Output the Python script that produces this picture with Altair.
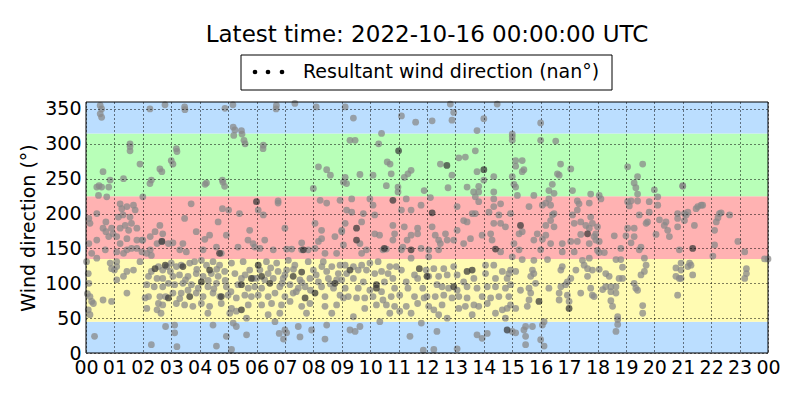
import altair as alt
import pandas as pd

TITLE = "Latest time: 2022-10-16 00:00:00 UTC"
LEGEND_LABEL = "Resultant wind direction (nan°)"
Y_TITLE = "Wind direction (°)"

hour_ticks = list(range(25))
dir_ticks = [0, 50, 100, 150, 200, 250, 300, 350]

band_low = [0, 45, 135, 225, 315]
band_high = [45, 135, 225, 315, 360]
band_colors = ["#bbdeff", "#fffbb2", "#ffb2b2", "#b8ffb8", "#bbdeff"]

# (hour of day, wind direction in degrees)
seg_00_03 = [
    (0.5, 355), (0.5, 343), (0.55, 350), (0.55, 338), (0.6, 260), (0.46, 240), (0.38, 238),
    (0.55, 238), (0.8, 238), (0.44, 226), (0.73, 224), (0.85, 248), (0.38, 200), (0.1, 193),
    (0.14, 186), (0.7, 188), (0.6, 179), (0.9, 179), (0.8, 167), (0.7, 174), (0.38, 162),
    (0.95, 171), (0.1, 157), (0.38, 136), (0.68, 148), (0.2, 143), (0.02, 131), (0.85, 129),
    (0.08, 114), (0.9, 121), (0.14, 81), (0.2, 74), (0.26, 71), (0.08, 62), (0.14, 55),
    (0.6, 76), (0.9, 74), (0.3, 24), (0.05, 85), (0.1, 100),
    (1.55, 300), (1.55, 290), (1.9, 271), (1.32, 250), (2.0, 224), (1.2, 214), (1.26, 207),
    (1.44, 210), (1.67, 212), (1.73, 205), (1.3, 198), (1.55, 195), (1.14, 195), (1.38, 183),
    (1.2, 179), (1.6, 186), (1.79, 179), (1.5, 176), (1.08, 167), (1.44, 164), (1.79, 162),
    (1.97, 162), (1.2, 157), (1.6, 150), (1.44, 148), (1.08, 145), (1.79, 150), (1.32, 143),
    (1.08, 131), (1.08, 124), (1.0, 119), (1.44, 117), (1.67, 119), (1.32, 110), (1.08, 105),
    (1.44, 86), (1.9, 131), (1.55, 296),
    (2.6, 264), (2.3, 248), (2.25, 243), (2.67, 260), (2.25, 350), (2.78, 356), (2.6, 183),
    (2.43, 174), (2.26, 167), (2.7, 171), (2.0, 162), (2.5, 157), (2.67, 160), (2.9, 157),
    (2.26, 148), (1.97, 145), (2.14, 143), (2.3, 140), (2.3, 117), (2.55, 124), (2.7, 119),
    (2.85, 124), (2.97, 117), (2.2, 110), (2.5, 107), (2.7, 107), (2.9, 100), (2.14, 98),
    (2.4, 95), (2.7, 95), (2.08, 79), (2.2, 81), (2.6, 81), (2.8, 81), (2.55, 71), (2.7, 69),
    (2.14, 64), (2.5, 62), (2.64, 57), (2.8, 38), (2.3, 12),
]

seg_03_06 = [
    (3.47, 353), (3.48, 349), (4.89, 351), (5.17, 356), (5.18, 324), (5.47, 319), (5.2, 312),
    (5.56, 305), (5.24, 320), (5.49, 314), (5.6, 300), (3.18, 293), (3.0, 276), (3.06, 271),
    (3.2, 289), (4.24, 244), (4.19, 242), (4.8, 248), (4.88, 239), (4.82, 245), (3.7, 214),
    (3.47, 193), (4.8, 207), (5.02, 205), (5.4, 200), (4.65, 188), (5.76, 176), (3.88, 174),
    (4.35, 169), (4.18, 163), (4.94, 169), (5.7, 162), (5.88, 157), (3.41, 157), (3.06, 158),
    (3.3, 148), (3.53, 145), (4.12, 148), (4.59, 152), (4.76, 143), (5.35, 152), (5.94, 152),
    (3.0, 129), (3.18, 124), (3.35, 126), (3.65, 129), (3.82, 131), (4.06, 133), (4.24, 126),
    (4.47, 131), (4.7, 126), (5.12, 129), (5.53, 131), (5.76, 119), (3.06, 110), (3.29, 112),
    (3.59, 110), (3.88, 114), (4.12, 110), (4.41, 114), (4.65, 110), (4.88, 117), (5.24, 114),
    (5.47, 107), (5.88, 107), (3.12, 98), (3.41, 100), (3.71, 98), (4.29, 95), (4.59, 100),
    (4.94, 95), (5.35, 98), (5.71, 93), (5.94, 95), (3.06, 86), (3.35, 86), (3.59, 90),
    (3.88, 86), (4.12, 81), (4.47, 86), (4.71, 81), (5.0, 83), (5.29, 79), (5.59, 83),
    (5.82, 81), (3.18, 71), (3.47, 69), (3.76, 67), (4.06, 71), (4.35, 67), (4.76, 71),
    (5.12, 64), (5.71, 69), (4.29, 57), (5.06, 57), (5.29, 60), (5.65, 50), (3.12, 40),
    (3.12, 29), (4.47, 40), (4.94, 24), (5.18, 43), (5.29, 38), (5.65, 26), (4.59, 10),
    (5.12, 5), (3.2, 9), (3.5, 105), (3.9, 120), (4.3, 104), (4.5, 92), (4.9, 104), (5.1, 88),
    (5.6, 112), (3.3, 78), (3.95, 93), (4.6, 120),
]

seg_06_09 = [
    (6.69, 350), (6.7, 355), (7.35, 358), (8.1, 353), (6.24, 298), (6.23, 293), (8.18, 267),
    (8.47, 263), (8.6, 255), (8.0, 236), (9.06, 245), (6.06, 205), (6.76, 218), (6.76, 215),
    (8.24, 219), (8.47, 215), (6.24, 198), (8.94, 219), (8.06, 186), (8.29, 176), (7.0, 179),
    (8.76, 167), (9.0, 176), (6.29, 162), (8.29, 164), (7.59, 158), (8.18, 160), (6.12, 150),
    (6.59, 148), (7.06, 149), (7.24, 149), (7.59, 148), (7.82, 148), (8.06, 150), (8.41, 143),
    (8.82, 143), (6.35, 131), (6.71, 129), (7.12, 133), (7.35, 126), (7.82, 131), (8.35, 131),
    (8.65, 124), (8.94, 126), (6.12, 119), (6.41, 114), (6.76, 117), (7.06, 119), (8.0, 119),
    (8.47, 117), (8.88, 114), (6.0, 107), (6.29, 105), (6.59, 107), (6.94, 107), (7.53, 105),
    (7.88, 107), (8.18, 102), (8.53, 107), (8.82, 105), (6.18, 93), (6.82, 95), (7.18, 98),
    (7.47, 93), (7.71, 95), (8.29, 95), (8.71, 93), (6.06, 83), (6.41, 81), (6.65, 86),
    (7.0, 81), (7.29, 86), (8.41, 81), (8.94, 83), (6.18, 69), (6.53, 71), (6.88, 69),
    (7.18, 74), (7.59, 67), (7.88, 71), (8.41, 67), (8.82, 69), (6.41, 55), (6.82, 57),
    (7.76, 57), (8.65, 57), (7.0, 33), (7.06, 29), (7.47, 38), (7.94, 33), (8.47, 40),
    (7.53, 23), (8.41, 20), (6.65, 45), (6.8, 28), (6.95, 20), (6.5, 122), (6.9, 100),
    (7.3, 120), (7.6, 101), (8.1, 112), (8.6, 99), (7.0, 112), (7.4, 88), (7.9, 90), (8.3, 124),
]

seg_09_12 = [
    (9.12, 353), (9.41, 337), (11.1, 340), (11.6, 331), (10.4, 315), (9.29, 305), (9.47, 305),
    (10.3, 300), (10.7, 271), (10.6, 274), (11.44, 262), (11.33, 257), (11.2, 252),
    (10.74, 257), (9.64, 256), (10.1, 255), (9.12, 252), (9.17, 243), (10.57, 240),
    (10.98, 238), (10.98, 231), (11.9, 233), (9.35, 221), (9.99, 221), (10.1, 212),
    (11.27, 221), (11.79, 212), (9.17, 205), (9.35, 202), (9.76, 200), (10.16, 198),
    (11.1, 205), (11.44, 205), (9.12, 186), (9.7, 188), (10.8, 183), (11.2, 181), (11.67, 179),
    (9.0, 174), (10.16, 171), (10.33, 169), (10.86, 171), (11.44, 169), (11.67, 171),
    (10.8, 162), (11.3, 162), (9.06, 155), (9.64, 157), (11.15, 152), (9.87, 148),
    (10.45, 148), (10.57, 149), (11.1, 148), (11.79, 150), (9.7, 143), (9.12, 126),
    (9.41, 124), (9.7, 126), (9.99, 129), (10.28, 131), (10.69, 124), (10.92, 124),
    (11.44, 136), (11.97, 119), (9.17, 114), (9.58, 119), (9.87, 119), (10.16, 114),
    (10.4, 117), (10.63, 114), (11.1, 119), (11.56, 112), (9.0, 105), (9.41, 107), (9.76, 102),
    (10.5, 102), (10.8, 107), (11.27, 102), (11.67, 107), (9.12, 93), (9.58, 93), (9.99, 90),
    (10.4, 88), (10.86, 93), (11.33, 93), (11.85, 93), (9.06, 79), (9.23, 81), (9.52, 79),
    (9.81, 79), (10.1, 81), (10.45, 76), (10.74, 81), (11.04, 83), (11.56, 81), (11.9, 79),
    (9.81, 64), (10.22, 69), (10.57, 69), (10.86, 67), (11.27, 67), (11.67, 71), (10.69, 57),
    (11.04, 60), (11.44, 57), (9.41, 52), (9.29, 33), (9.47, 31), (9.64, 38), (10.34, 45),
    (11.8, 43), (11.4, 24), (11.87, 4),
]

seg_12_15 = [
    (12.82, 357), (12.94, 345), (14.47, 357), (12.18, 333), (12.88, 334), (14.0, 336),
    (13.76, 319), (15.0, 310), (13.7, 290), (13.12, 280), (13.35, 281), (12.47, 271),
    (13.76, 260), (12.88, 255), (14.35, 253), (15.0, 253), (14.0, 248), (13.82, 239),
    (13.41, 238), (12.74, 237), (13.64, 231), (13.82, 231), (14.35, 231), (12.12, 223),
    (13.7, 224), (14.35, 221), (13.82, 217), (14.35, 210), (14.59, 214), (13.06, 210),
    (13.7, 200), (13.59, 200), (14.18, 202), (14.53, 198), (14.94, 200), (13.29, 190),
    (13.41, 188), (14.35, 186), (14.59, 186), (14.76, 181), (12.18, 181), (12.29, 169),
    (12.65, 171), (13.06, 176), (14.24, 171), (12.41, 162), (12.71, 162), (12.94, 162),
    (13.53, 164), (13.94, 169), (13.29, 157), (14.29, 162), (12.47, 157), (12.06, 148),
    (12.41, 148), (14.59, 145), (12.06, 138), (15.0, 138), (12.24, 121), (12.59, 121),
    (12.94, 124), (14.06, 126), (14.35, 126), (14.65, 117), (14.94, 119), (12.06, 110),
    (12.41, 110), (12.71, 112), (13.06, 112), (13.29, 102), (13.65, 107), (14.06, 114),
    (14.41, 107), (14.82, 107), (12.35, 98), (12.53, 95), (12.76, 93), (13.06, 90),
    (13.41, 95), (13.76, 93), (14.12, 95), (14.41, 95), (14.76, 93), (12.0, 81), (12.29, 81),
    (12.59, 83), (12.88, 79), (13.12, 81), (13.41, 79), (13.65, 69), (13.94, 81), (14.24, 79),
    (14.53, 81), (14.88, 81), (12.06, 67), (12.24, 62), (12.53, 69), (13.12, 64), (13.35, 67),
    (13.82, 67), (14.12, 71), (14.65, 62), (14.82, 64), (12.41, 55), (12.71, 50), (13.59, 55),
    (14.41, 57), (14.76, 50), (15.0, 31), (12.35, 31), (13.76, 26), (14.12, 28), (13.94, 21),
    (12.24, 5), (13.06, 6),
]

seg_15_18 = [
    (16.0, 330), (16.0, 305), (16.53, 304), (15.0, 314), (15.0, 305), (15.12, 276),
    (15.35, 276), (15.12, 268), (15.41, 263), (15.35, 260), (16.7, 271), (16.59, 257),
    (16.65, 255), (17.06, 264), (16.41, 242), (15.06, 242), (15.12, 238), (16.29, 233),
    (16.47, 229), (17.12, 233), (17.76, 228), (15.18, 226), (15.76, 226), (16.29, 221),
    (16.18, 215), (16.06, 212), (16.35, 212), (17.29, 218), (17.35, 214), (17.71, 215),
    (15.59, 210), (17.29, 205), (16.47, 200), (16.41, 198), (17.12, 198), (17.76, 195),
    (16.35, 190), (17.18, 186), (17.41, 188), (17.59, 183), (17.82, 186), (16.18, 183),
    (16.47, 181), (17.71, 179), (15.24, 171), (15.35, 174), (15.88, 171), (16.18, 169),
    (17.41, 170), (17.88, 167), (15.06, 157), (15.76, 162), (16.06, 163), (16.35, 157),
    (16.76, 157), (17.06, 160), (17.29, 160), (17.71, 157), (17.94, 162), (15.24, 148),
    (16.0, 148), (16.76, 145), (17.18, 145), (15.35, 134), (15.76, 133), (16.24, 134),
    (17.47, 133), (17.71, 136), (14.88, 114), (15.12, 117), (15.71, 119), (15.76, 114),
    (15.65, 110), (16.71, 119), (16.76, 124), (17.24, 119), (17.53, 126), (17.65, 121),
    (17.82, 119), (17.65, 110), (17.06, 107), (16.94, 102), (15.82, 100), (14.94, 98),
    (16.29, 93), (16.71, 95), (16.88, 98), (17.76, 93), (15.29, 90), (15.59, 93), (15.65, 86),
    (16.65, 86), (17.41, 86), (17.82, 83), (16.94, 83), (14.94, 69), (15.12, 64), (15.53, 67),
    (15.59, 76), (16.65, 76), (17.0, 74), (15.47, 38), (15.71, 38), (16.12, 45), (16.06, 40),
    (15.12, 29), (15.41, 33), (15.47, 24), (15.47, 12), (16.0, 19), (16.12, 10),
]

seg_18_21 = [
    (19.06, 267), (19.59, 271), (19.41, 253), (19.29, 244), (19.35, 237), (20.0, 234),
    (21.0, 239), (18.06, 226), (18.12, 221), (19.41, 228), (20.12, 224), (19.06, 217),
    (19.18, 218), (19.12, 211), (19.41, 218), (19.82, 217), (20.12, 212), (19.47, 198),
    (19.82, 202), (19.76, 188), (19.71, 186), (20.82, 200), (20.82, 193), (20.18, 191),
    (20.41, 188), (20.35, 183), (20.82, 181), (20.47, 176), (19.06, 179), (19.29, 179),
    (18.0, 181), (17.94, 171), (20.53, 167), (20.06, 170), (18.59, 168), (19.0, 168),
    (19.29, 167), (19.18, 158), (18.06, 160), (19.53, 152), (18.82, 150), (18.0, 147),
    (18.06, 144), (18.24, 144), (19.47, 148), (20.88, 148), (18.65, 134), (18.82, 134),
    (19.65, 136), (19.71, 126), (18.88, 123), (18.06, 120), (19.65, 117), (19.53, 112),
    (18.29, 114), (18.41, 110), (18.88, 107), (18.76, 107), (20.94, 119), (20.76, 122),
    (20.76, 110), (20.88, 107), (19.29, 100), (19.35, 93), (19.41, 90), (18.29, 95),
    (18.47, 95), (18.65, 95), (18.18, 91), (18.47, 88), (18.65, 86), (17.88, 81), (20.82, 83),
    (18.47, 75), (18.53, 67), (19.59, 68), (19.59, 57), (18.71, 52), (18.71, 48), (18.71, 41),
    (18.65, 31),
]

seg_21_24 = [
    (21.0, 240), (21.53, 210), (21.65, 212), (21.7, 212), (21.47, 207), (21.06, 200),
    (21.18, 202), (21.12, 198), (21.06, 190), (21.41, 183), (20.94, 129), (21.24, 129),
    (21.18, 124), (21.29, 126), (21.35, 112), (20.94, 107), (22.29, 200), (22.35, 201),
    (22.24, 194), (22.18, 188), (22.65, 198), (22.12, 176), (22.12, 155), (22.06, 139),
    (22.94, 160), (23.18, 145), (23.88, 135), (24.0, 135), (23.24, 121), (23.24, 114),
    (23.18, 107),
]

# darker-looking points
dark_pts = [
    (2.43, 121), (2.79, 126), (2.67, 160), (2.9, 79), (4.06, 102), (3.41, 124), (4.7, 143),
    (3.65, 81), (4.35, 119), (5.47, 98), (4.76, 81), (6.0, 217), (5.82, 107), (5.47, 62),
    (7.59, 116), (6.47, 100), (8.06, 86), (7.71, 79), (7.65, 148), (6.06, 126), (7.29, 110),
    (6.18, 110), (8.76, 100), (9.52, 179), (9.52, 162), (10.22, 98), (10.22, 93), (9.29, 119),
    (10.8, 219), (11.44, 148), (11.0, 290), (10.5, 150), (11.73, 121), (13.41, 117),
    (13.59, 119), (14.41, 149), (12.7, 269), (14.0, 263), (12.18, 201), (12.0, 110),
    (12.94, 95), (14.82, 33), (15.29, 183), (17.65, 171), (15.94, 74), (17.0, 64), (21.35, 150),
]

W, H = 682, 251
FONT = "DejaVu Sans"
TICK_FS = 19
TEXT_FS = 19

points = (seg_00_03 + seg_03_06 + seg_06_09 + seg_09_12 + seg_12_15
          + seg_15_18 + seg_18_21 + seg_21_24)
df = pd.DataFrame(points, columns=["hour", "direction"])
dark_df = pd.DataFrame(dark_pts, columns=["hour", "direction"])
bands_df = pd.DataFrame({"low": band_low, "high": band_high, "color": band_colors})

x_scale = alt.Scale(domain=[0, 24], nice=False, zero=False)
y_scale = alt.Scale(domain=[0, 360], nice=False, zero=False)

x_axis = alt.Axis(
    values=hour_ticks,
    labelExpr="(datum.value % 24 < 10 ? '0' : '') + (datum.value % 24)",
    grid=True, gridDash=[1, 3], gridColor="black", gridWidth=1, gridOpacity=1,
    ticks=False, domain=False, labelFontSize=TICK_FS, labelFont=FONT, labelColor="black",
    labelPadding=5, labelFlush=False, labelOverlap=False, labelBound=False,
    title=None, zindex=1,
)
y_axis = alt.Axis(
    values=dir_ticks,
    grid=True, gridDash=[1, 3], gridColor="black", gridWidth=1, gridOpacity=1,
    ticks=False, domain=False, labelFontSize=TICK_FS, labelFont=FONT, labelColor="black",
    labelPadding=5, labelFlush=False, labelOverlap=False, title=Y_TITLE,
    titleFont=FONT, titleFontSize=TEXT_FS, titleFontWeight="normal", titleColor="black",
    titlePadding=6, zindex=1,
)

bands = alt.Chart(bands_df).mark_rect().encode(
    y=alt.Y("low:Q", scale=y_scale, axis=y_axis, title=Y_TITLE),
    y2="high:Q",
    x=alt.value(0),
    x2=alt.value(W),
    color=alt.Color("color:N", scale=None),
)

pts = alt.Chart(df).mark_circle(size=46, color="#8a8a8a", opacity=0.75).encode(
    x=alt.X("hour:Q", scale=x_scale, axis=x_axis, title=None),
    y=alt.Y("direction:Q", scale=y_scale, axis=y_axis, title=Y_TITLE),
)

dark = alt.Chart(dark_df).mark_circle(size=46, color="#3c3c3c", opacity=0.75).encode(
    x=alt.X("hour:Q", scale=x_scale, axis=x_axis, title=None),
    y=alt.Y("direction:Q", scale=y_scale, axis=y_axis, title=Y_TITLE),
)

blank = alt.Data(values=[{}])
frame = alt.Chart(blank).mark_rect(fill=None, stroke="black", strokeWidth=1).encode(
    x=alt.value(0), x2=alt.value(W), y=alt.value(0), y2=alt.value(H)
)

legend_box = alt.Chart(blank).mark_rect(fill="white", stroke="black", strokeWidth=1).encode(
    x=alt.value(155), x2=alt.value(526), y=alt.value(-47), y2=alt.value(-12)
)
legend_dots = [
    alt.Chart(blank).mark_circle(size=22, color="black", opacity=1).encode(
        x=alt.value(px), y=alt.value(-30)
    )
    for px in (169, 182, 196)
]
legend_text = alt.Chart(blank).mark_text(
    align="left", baseline="middle", fontSize=TEXT_FS, font=FONT, color="black"
).encode(x=alt.value(217), y=alt.value(-30), text=alt.value(LEGEND_LABEL))

chart = alt.layer(
    bands, pts, dark, frame, legend_box, *legend_dots, legend_text
).properties(
    width=W,
    height=H,
    title=alt.TitleParams(
        text=TITLE, fontSize=23, font=FONT, fontWeight="normal", color="black",
        anchor="middle", offset=8,
    ),
    autosize=alt.AutoSizeParams(type="none"),
    padding={"left": 78, "top": 94, "right": 24, "bottom": 39},
).configure_view(stroke=None).configure_axis(labelOverlap=False)

chart.save("out.html", embed_options={"renderer": "svg", "actions": False})
